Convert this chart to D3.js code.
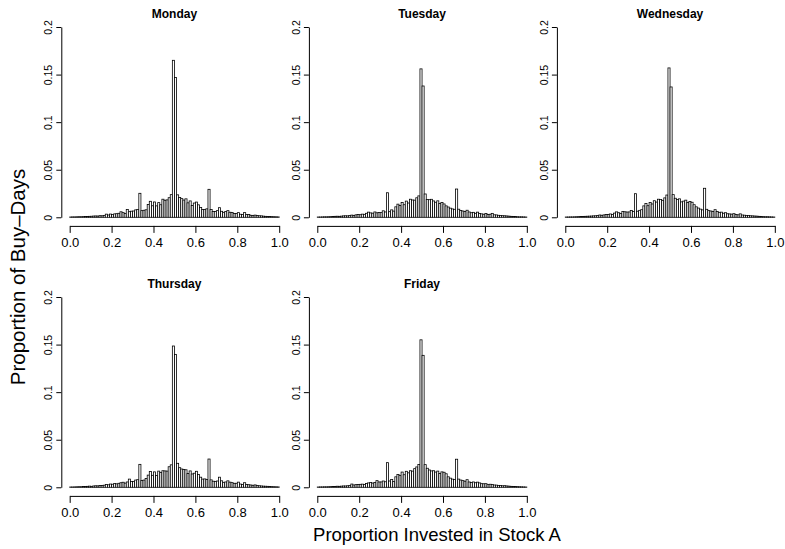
<!DOCTYPE html>
<html>
<head>
<meta charset="utf-8">
<script src="https://cdn.jsdelivr.net/npm/d3@7"></script>
<style>
  body { margin: 0; background: #fff; }
  svg { display: block; font-family: "Liberation Sans", Arial, Helvetica, sans-serif; }
</style>
</head>
<body>
<div id="chart"></div>
<script>
// histogram bins of width 0.01 from 0 to 1, heights in units of 1/1000
var binEdges = d3.range(0, 101).map(d => d / 100);
var days = ["Monday", "Tuesday", "Wednesday", "Thursday", "Friday"];

var mon = [
  0.3,0.4,0.4,0.5,0.6,0.6,0.7,0.8,0.9,1.0,
  1.1,1.3,1.4,1.3,1.7,1.6,2.0,3.3,2.4,3.4,
  3.0,3.6,3.8,4.2,5.8,4.9,4.1,8.2,5.9,6.4,
  6.6,7.8,8.3,25.2,7.0,7.4,7.9,13.4,16.8,12.1,
  16.1,12.0,15.4,13.2,19.0,17.9,18.3,20.6,23.8,165,
  147,23.6,20.8,19.6,18.1,19.4,15.2,17.2,12.3,15.0,
  16.0,13.1,10.2,8.1,8.3,8.9,29.4,8.1,6.2,6.0,
  7.0,10.1,6.3,5.2,6.1,7.0,5.3,5.1,4.1,4.0,
  4.9,3.2,3.0,4.9,3.0,2.9,2.1,2.0,2.3,1.9,
  1.6,1.5,1.2,1.0,0.9,0.8,0.7,0.6,0.5,0.4];

var tue = [
  0.3,0.3,0.4,0.5,0.5,0.6,0.7,0.8,1.0,1.1,
  1.0,1.2,1.5,1.6,1.5,1.9,2.3,2.0,2.6,3.0,
  2.7,3.3,3.1,4.2,5.4,4.6,4.3,5.6,4.7,5.0,
  4.9,6.8,5.6,25.8,5.9,7.8,6.5,11.0,13.8,12.4,
  15.5,13.2,17.0,15.0,19.0,18.2,18.0,20.5,22.5,156,
  138,24.5,18.8,18.5,18.9,17.2,15.8,17.3,14.5,15.6,
  14.0,12.0,10.8,9.6,8.8,8.4,29.7,8.5,7.2,6.6,
  6.0,7.4,5.6,4.8,5.2,4.2,5.4,4.0,3.6,3.2,
  4.0,2.9,3.2,4.1,2.6,2.5,2.1,1.8,1.7,1.6,
  1.4,1.2,1.0,0.9,0.8,0.6,0.5,0.5,0.4,0.3];

var wed = [
  0.3,0.3,0.4,0.4,0.5,0.6,0.7,0.8,0.9,1.0,
  1.1,1.2,1.3,1.5,1.6,1.8,2.4,2.1,2.5,2.9,
  3.0,3.5,3.0,4.4,5.7,4.8,4.0,6.2,5.8,5.5,
  5.6,7.2,6.0,24.8,6.4,7.3,8.0,12.0,14.4,12.2,
  15.6,14.0,17.4,16.0,19.0,18.8,17.8,20.4,23.4,157,
  137,23.8,20.0,18.6,19.4,16.2,17.0,18.0,15.5,16.6,
  15.8,13.2,11.0,9.7,8.6,7.8,30.5,8.4,7.0,6.6,
  6.2,8.0,6.0,5.2,5.4,4.3,4.8,3.7,3.5,3.3,
  3.8,3.0,2.6,3.6,2.4,2.2,2.0,1.8,1.6,1.5,
  1.3,1.2,1.0,0.8,0.7,0.6,0.6,0.5,0.4,0.3];

var thu = [
  0.3,0.3,0.4,0.5,0.6,0.6,0.8,0.8,1.0,1.2,
  1.0,1.4,1.6,1.5,1.8,1.9,2.2,3.0,2.6,3.4,
  3.2,3.9,3.6,4.2,4.8,5.3,4.4,5.6,8.6,6.0,
  6.2,7.6,8.0,24.1,7.2,7.6,9.2,12.8,16.6,12.6,
  16.2,12.4,17.0,15.6,17.4,17.2,17.0,21.6,23.6,148.5,
  139.7,25.2,20.6,19.2,18.6,18.4,14.4,17.2,14.0,14.8,
  16.8,13.4,10.6,8.6,8.8,8.2,29.7,7.8,6.4,6.2,
  6.6,10.6,6.8,5.2,5.6,6.8,5.4,4.9,4.2,4.2,
  5.4,3.4,3.0,4.8,2.9,2.7,2.4,2.1,2.5,2.0,
  1.6,1.4,1.2,1.1,1.0,0.8,0.7,0.6,0.5,0.4];

var fri = [
  0.3,0.4,0.4,0.5,0.5,0.6,0.7,0.8,0.9,1.1,
  1.0,1.2,1.4,1.4,1.6,2.0,3.4,2.4,2.8,3.0,
  3.1,3.3,3.0,4.0,4.6,5.0,4.4,5.0,7.0,5.6,
  5.6,6.6,5.8,25.9,6.6,8.2,6.0,11.0,13.4,12.6,
  16.0,13.2,16.8,15.2,17.4,17.0,19.6,21.4,24.0,155,
  138.7,23.8,20.0,18.2,17.2,17.4,16.0,17.0,14.4,16.2,
  15.8,14.2,11.0,9.6,8.6,8.2,29.5,8.6,7.6,7.0,
  6.4,8.0,5.6,5.0,5.6,4.8,5.4,4.6,3.8,3.7,
  3.8,2.8,3.2,3.0,2.4,2.3,2.0,1.8,1.6,1.7,
  1.4,1.2,1.0,0.9,0.8,0.7,0.6,0.5,0.4,0.3];

var xTicks = [0, 0.2, 0.4, 0.6, 0.8, 1.0];
var yTicks = [0, 0.05, 0.1, 0.15, 0.2];
var yTickLabels = ["0", "0.05", "0.1", "0.15", "0.2"];

var series = [mon, tue, wed, thu, fri];

var svgWidth = 785;
var svgHeight = 549;

// panel layout (R style plot regions)
var colLeft = [61.3, 308.9, 556.9];
var rowTop = [19.4, 289.4];
var panelW = 226.3;
var panelH = 205.5;

var svg = d3.select("#chart")
  .append("svg")
  .attr("width", svgWidth)
  .attr("height", svgHeight);

days.forEach(function(day, k) {
  var left = colLeft[k % 3];
  var top = rowTop[Math.floor(k / 3)];
  var vals = series[k];

  var x = d3.scaleLinear().domain([-0.04, 1.04]).range([left, left + panelW]);
  var y = d3.scaleLinear().domain([-0.008, 0.208]).range([top + panelH, top]);

  var g = svg.append("g");

  g.selectAll("rect")
    .data(vals)
    .enter()
    .append("rect")
    .attr("x", (d, i) => x(binEdges[i]))
    .attr("width", (d, i) => x(binEdges[i + 1]) - x(binEdges[i]))
    .attr("y", d => y(d / 1000))
    .attr("height", d => y(0) - y(d / 1000))
    .attr("fill", "#fff")
    .attr("stroke", "#000")
    .attr("stroke-width", 0.8);

  // x axis, drawn just below the plot region
  var xAxisScale = d3.scaleLinear().domain([0, 1]).range([x(0), x(1)]);
  var xAxis = g.append("g")
    .attr("transform", `translate(0, ${top + panelH + 1})`)
    .call(d3.axisBottom(xAxisScale).tickValues(xTicks).tickFormat(d3.format(".1f"))
      .tickSizeInner(7).tickSizeOuter(0).tickPadding(5));
  xAxis.selectAll("text")
    .attr("font-size", 13)
    .attr("font-family", "Liberation Sans, Arial, sans-serif")
    .attr("fill", "#000");

  // y axis at left edge of the region
  var yAxisScale = d3.scaleLinear().domain([0, 0.2]).range([y(0), y(0.2)]);
  var yAxis = g.append("g")
    .attr("transform", `translate(${left}, 0)`)
    .call(d3.axisLeft(yAxisScale).tickValues(yTicks)
      .tickFormat((d, i) => yTickLabels[i])
      .tickSizeInner(5).tickSizeOuter(0));
  yAxis.selectAll("text")
    .attr("font-size", 10.5)
    .attr("font-family", "Liberation Sans, Arial, sans-serif")
    .attr("fill", "#000")
    .attr("text-anchor", "middle")
    .attr("dy", 0)
    .attr("x", 0)
    .attr("transform", "translate(-9.4, 0) rotate(-90)");

  g.selectAll(".domain").attr("stroke", "#000");
  g.selectAll(".tick line").attr("stroke", "#000");

  g.append("text")
    .attr("x", left + panelW / 2)
    .attr("y", top - 1)
    .attr("text-anchor", "middle")
    .attr("font-size", 12)
    .attr("font-weight", "bold")
    .text(day);
});

svg.append("text")
  .attr("transform", "translate(25, 277) rotate(-90)")
  .attr("text-anchor", "middle")
  .attr("font-size", 20.5)
  .text("Proportion of Buy–Days");

svg.append("text")
  .attr("x", 437)
  .attr("y", 541)
  .attr("text-anchor", "middle")
  .attr("font-size", 18.5)
  .text("Proportion Invested in Stock A");
</script>
</body>
</html>
